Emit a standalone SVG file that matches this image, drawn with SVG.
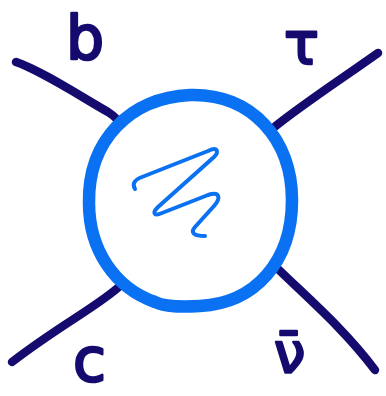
<svg xmlns="http://www.w3.org/2000/svg" width="386" height="396" viewBox="0 0 386 396">
<style>
.leg{fill:none;stroke:#150a6e;stroke-width:8.5;stroke-linecap:round;stroke-linejoin:round}
.lbl{font-family:"DejaVu Sans","Liberation Sans",sans-serif;fill:#150a6e;stroke:#150a6e;stroke-width:2.5;stroke-linejoin:round}
.ring{fill:#fff;stroke:#0a72f2;stroke-width:12.5}
.sq{fill:none;stroke:#0a72f2;stroke-width:4;stroke-linecap:round;stroke-linejoin:round}
</style>
<rect width="386" height="396" fill="#fff"/>
<g id="connectors">
<path class="leg" d="M16,62 C40,70 80,96 108,112 C116,117 120,122 123,128"/>
<path class="leg" d="M272,129 C300,106 340,80 378,53"/>
<path class="leg" d="M121,285 C100,305 60,325 12,362"/>
<path class="leg" d="M278,269 C310,300 345,330 375,370"/>
</g>
<g id="blob">
<path class="ring" d="M190,95 C252,93 292,140 292,200 C292,262 255,303 200,306 C180,307 165,307 155,302 C115,288 89,250 89,203 C88,140 130,98 190,95 Z"/>
<path class="sq" d="M135,189 C132,184 134,180 142,177 L208,151 C218,146 219,152 214,157 L158,207 C151,214 155,216 162,213 L208,195 C220,191 221,198 214,206 L195,227 C190,233 194,236 205,236"/>
</g>
<g id="label-b"><text class="lbl" x="66" y="59" font-size="60">b</text></g>
<g id="label-tau"><text class="lbl" x="284" y="64" font-size="58">τ</text></g>
<g id="label-c"><text class="lbl" x="73" y="381" font-size="60">c</text></g>
<g id="label-nubar"><text class="lbl" x="274" y="372" font-size="56">ν̄</text></g>
</svg>
